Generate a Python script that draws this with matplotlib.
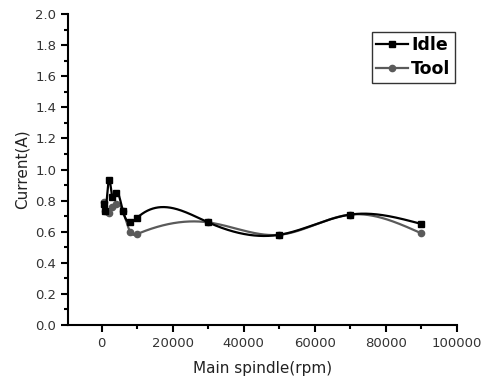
import numpy as np
import matplotlib
matplotlib.use("Agg")
import matplotlib.pyplot as plt
from matplotlib.ticker import MultipleLocator, FormatStrFormatter

# spindle speed (rpm) and measured current (A)
speed = [500, 1000, 2000, 3000, 4000, 6000, 8000, 10000, 30000, 50000, 70000, 90000]
idle = [0.78, 0.73, 0.93, 0.82, 0.85, 0.73, 0.66, 0.69, 0.66, 0.58, 0.71, 0.65]
tool = [0.79, 0.73, 0.72, 0.76, 0.78, 0.73, 0.60, 0.585, 0.66, 0.58, 0.71, 0.59]


def spline(x, y, n=600):
    # natural cubic spline through the points, just for the smooth connecting line
    x = np.asarray(x, float)
    y = np.asarray(y, float)
    h = np.diff(x)
    m = len(x)
    A = np.zeros((m, m))
    r = np.zeros(m)
    A[0, 0] = A[-1, -1] = 1
    for i in range(1, m - 1):
        A[i, i - 1] = h[i - 1]
        A[i, i] = 2 * (h[i - 1] + h[i])
        A[i, i + 1] = h[i]
        r[i] = 6 * ((y[i + 1] - y[i]) / h[i] - (y[i] - y[i - 1]) / h[i - 1])
    M = np.linalg.solve(A, r)
    xs = np.union1d(np.linspace(x[0], x[-1], n), x)
    k = np.clip(np.searchsorted(x, xs) - 1, 0, m - 2)
    t0 = x[k + 1] - xs
    t1 = xs - x[k]
    hk = h[k]
    ys = (M[k] * t0 ** 3 + M[k + 1] * t1 ** 3) / (6 * hk) \
        + (y[k] / hk - M[k] * hk / 6) * t0 + (y[k + 1] / hk - M[k + 1] * hk / 6) * t1
    return xs, ys


plt.rcParams['font.family'] = ['DejaVu Sans']
fig = plt.figure(figsize=(4.83, 3.89), dpi=100)
ax = fig.add_axes([0.1408, 0.1645, 0.8047, 0.7995])

gray = "#5a5a5a"
xs, ys = spline(speed, tool)
ax.plot(xs, ys, color=gray, lw=1.6)
ax.plot(speed, tool, ls="none", marker="o", ms=4.5, color=gray)
xs, ys = spline(speed, idle)
ax.plot(xs, ys, color="black", lw=1.6)
ax.plot(speed, idle, ls="none", marker="s", ms=4.5, color="black")

# legend proxies
l1, = ax.plot([], [], color="black", lw=1.6, marker="s", ms=4.5)
l2, = ax.plot([], [], color=gray, lw=1.6, marker="o", ms=4.5)
leg = ax.legend([l1, l2], ["Idle", "Tool"], loc="upper right", bbox_to_anchor=(0.995, 0.942),
                prop={"weight": "bold", "size": 12.5}, frameon=True, fancybox=False,
                handlelength=1.85, handletextpad=0.15, borderpad=0.25, labelspacing=0.35,
                borderaxespad=0)
leg.get_frame().set_edgecolor("black")
leg.get_frame().set_linewidth(1.0)

ax.set_xlim(-9500, 100000)
ax.set_ylim(0, 2.0)
ax.xaxis.set_major_locator(MultipleLocator(20000))
ax.xaxis.set_minor_locator(MultipleLocator(10000))
ax.yaxis.set_major_locator(MultipleLocator(0.2))
ax.yaxis.set_minor_locator(MultipleLocator(0.1))
ax.yaxis.set_major_formatter(FormatStrFormatter("%.1f"))

for s in ["top", "right"]:
    ax.spines[s].set_visible(False)
for s in ["left", "bottom"]:
    ax.spines[s].set_linewidth(1.5)
ax.tick_params(which="major", direction="out", length=5, width=1.5, labelsize=9.5, colors="black",
               labelcolor="#333333")
ax.tick_params(which="minor", direction="out", length=3, width=1.5)

ax.set_xlabel("Main spindle(rpm)", fontsize=11, color="#222222", labelpad=8)
ax.set_ylabel("Current(A)", fontsize=11, color="#222222", labelpad=4)

fig.savefig("out.png", dpi=100)
